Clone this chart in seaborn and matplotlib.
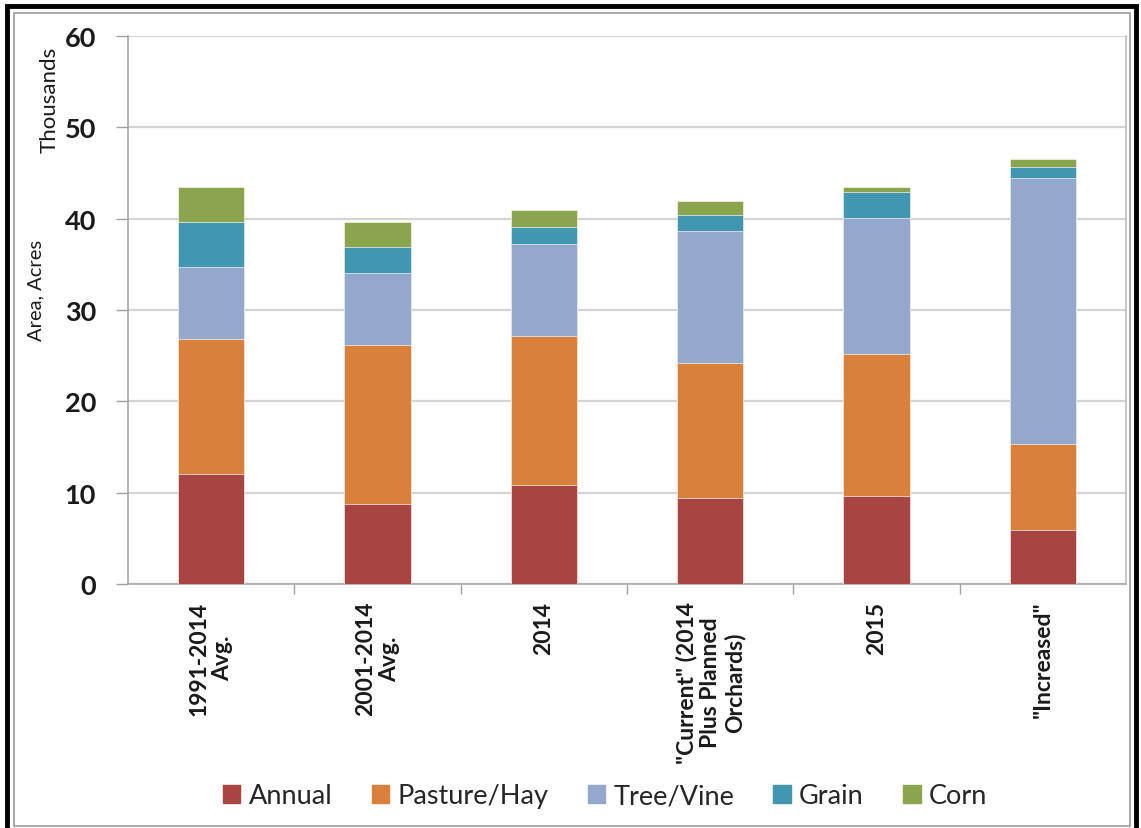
import matplotlib
matplotlib.use("Agg")
import matplotlib.pyplot as plt
import matplotlib.patches as mpatches
import seaborn as sns
import pandas as pd
import numpy as np

categories = ['1991-2014\nAvg.', '2001-2014\nAvg.', '2014',
              '"Current" (2014\nPlus Planned\nOrchards)', '2015', '"Increased"']
series_names = ['Annual', 'Pasture/Hay', 'Tree/Vine', 'Grain', 'Corn']
annual = [12.0, 8.8, 10.8, 9.45, 9.6, 5.95]
pasture = [14.8, 17.4, 16.3, 14.75, 15.6, 9.35]
tree_vine = [7.9, 7.9, 10.1, 14.4, 14.9, 29.2]
grain = [4.9, 2.8, 1.9, 1.8, 2.8, 1.2]
corn = [3.9, 2.7, 1.8, 1.5, 0.6, 0.8]
colors = ['#A84442', '#D9813B', '#94A8CE', '#4197AF', '#8AA54D']

values = [annual, pasture, tree_vine, grain, corn]

sns.set_theme(style="white")
plt.rcParams['font.family'] = ['Lato', 'DejaVu Sans']

fig = plt.figure(figsize=(11.41, 8.29), dpi=100)
ax = fig.add_axes([128/1141, 1 - 585/829, (1126-128)/1141, (585-37)/829])

cum = np.cumsum(np.array(values), axis=0)
for i in reversed(range(len(series_names))):
    df = pd.DataFrame({'cat': categories, 'val': cum[i]})
    sns.barplot(data=df, x='cat', y='val', color=colors[i], width=0.4,
                saturation=1, ax=ax, order=categories, zorder=3,
                edgecolor='#F2F2F2', linewidth=0.5)

ax.set_ylim(0, 60)
ax.set_xlim(-0.5, len(categories) - 0.5)
ax.set_yticks([0, 10, 20, 30, 40, 50, 60])
ax.set_yticklabels(['0', '10', '20', '30', '40', '50', '60'],
                   fontsize=19.5, fontweight='bold', color='#1a1a1a')
ax.yaxis.grid(True, color='#D4D4D4', linewidth=1.6, zorder=0)
ax.set_axisbelow(True)
ax.tick_params(axis='y', length=9, width=1, color='#A0A0A0', direction='out', pad=14, left=True)

ax.set_xticks(range(len(categories)))
ax.set_xticklabels(categories, rotation=90, fontsize=16.5, fontweight='bold',
                   color='#1a1a1a', ha='center', va='top', multialignment='center',
                   linespacing=1.15)
ax.tick_params(axis='x', which='major', length=0, pad=12)
ax.set_xticks(np.arange(0.5, len(categories) - 0.5, 1.0), minor=True)
ax.tick_params(axis='x', which='minor', length=7, width=1, color='#A0A0A0', direction='out', bottom=True)

for s in ['left', 'bottom', 'right', 'top']:
    ax.spines[s].set_visible(True)
    ax.spines[s].set_color('#BDBDBD')
    ax.spines[s].set_linewidth(1.2)
ax.spines['top'].set_visible(False)
ax.spines['left'].set_color('#A8A8A8')
ax.spines['bottom'].set_color('#A8A8A8')
ax.set_xlabel('')
ax.set_ylabel('')

fig.text(36/1141, 1 - 290/829, 'Area, Acres', rotation=90, ha='center', va='center',
         fontsize=14.5, color='#1a1a1a')
fig.text(50/1141, 1 - 100/829, 'Thousands', rotation=90, ha='center', va='center',
         fontsize=16, color='#1a1a1a')

handles = [mpatches.Patch(color=c, label=n) for n, c in zip(series_names, colors)]
fig.legend(handles=handles, loc='center', bbox_to_anchor=(605/1141, 1 - 797/829),
           ncol=5, frameon=False, fontsize=19.5, handlelength=0.65, handleheight=0.65,
           handletextpad=0.3, columnspacing=1.45)

# outer frame (black) and inner border (gray)
fig.patches.append(mpatches.Rectangle((7/1141, -0.02), (1136-7)/1141, 1 - 7/829 + 0.02,
                                      transform=fig.transFigure, fill=False,
                                      edgecolor='black', linewidth=3.5))
fig.patches.append(mpatches.Rectangle((14/1141, 2/829), (1130-14)/1141, 1 - 16/829,
                                      transform=fig.transFigure, fill=False,
                                      edgecolor='#9A9A9A', linewidth=1.2))

fig.savefig('out.png', dpi=100)
